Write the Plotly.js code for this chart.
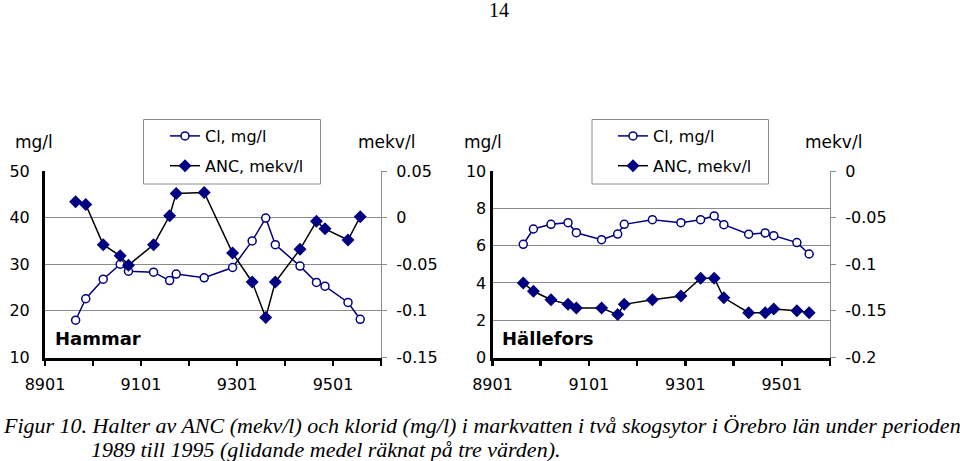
<!DOCTYPE html>
<html>
<head>
<meta charset="utf-8">
<script src="https://cdn.plot.ly/plotly-3.0.1.min.js"></script>
<style>html,body{margin:0;padding:0;background:#fff;}#chart{width:960px;height:461px;}</style>
</head>
<body>
<div id="chart"></div>
<script>
// ---- data ----
const sampleDates = ['1989-08-22','1989-11-07','1990-03-20','1990-07-27','1990-09-28','1991-04-07','1991-08-07','1991-09-26','1992-04-26','1992-11-28','1993-04-26','1993-08-07','1993-10-19','1994-04-25','1994-08-28','1994-11-01','1995-04-25','1995-07-27'];
const hammarCl  = [18.0, 22.6, 26.8, 30.0, 28.5, 28.3, 26.5, 27.9, 27.1, 29.3, 35.0, 39.9, 34.2, 29.6, 26.1, 25.3, 21.8, 18.2];
const hammarAnc = [0.017, 0.014, -0.029, -0.041, -0.051, -0.029, 0.002, 0.026, 0.027, -0.038, -0.069, -0.107, -0.069, -0.034, -0.004, -0.012, -0.024, 0.001];
const halleCl   = [6.07, 6.89, 7.14, 7.23, 6.69, 6.32, 6.62, 7.14, 7.39, 7.23, 7.39, 7.59, 7.12, 6.61, 6.68, 6.53, 6.16, 5.55];
const halleAnc  = [-0.120, -0.129, -0.138, -0.143, -0.147, -0.147, -0.154, -0.143, -0.138, -0.134, -0.115, -0.115, -0.136, -0.152, -0.152, -0.148, -0.150, -0.152];

const xTickVals = ['1989-01-01','1990-01-01','1991-01-01','1992-01-01','1993-01-01','1994-01-01','1995-01-01','1996-01-01'];
const xTickText = ['8901','','9101','','9301','','9501',''];
const hamLeftTicks = [10, 20, 30, 40, 50];
const hamRightVals = [-0.15, -0.1, -0.05, 0, 0.05];
const hamRightText = ['-0.15', '-0.1', '-0.05', '0', '0.05'];
const halLeftTicks = [0, 2, 4, 6, 8, 10];
const halRightVals = [-0.2, -0.15, -0.1, -0.05, 0];
const halRightText = ['-0.2', '-0.15', '-0.1', '-0.05', '0'];

const seriesNames = ['Cl, mg/l', 'ANC, mekv/l'];
const siteNames = ['Hammar', 'Hällefors'];

// ---- styling ----
const W = 960, H = 461;
const px = v => v / W;
const py = v => 1 - v / H;
const FONT = 'DejaVu Sans';
const NAVY = '#000080';

function clTrace(y, xa, ya, leg) {
  return {x: sampleDates, y: y, xaxis: xa, yaxis: ya, legend: leg, name: seriesNames[0],
    legendgroup: leg + 'a', mode: 'lines+markers', line: {color: NAVY, width: 1.5},
    marker: {symbol: 'circle', size: 8, color: 'white', line: {color: NAVY, width: 1.5}}};
}
function ancTrace(y, xa, ya, leg) {
  return {x: sampleDates, y: y, xaxis: xa, yaxis: ya, legend: leg, name: seriesNames[1],
    legendgroup: leg + 'b', mode: 'lines+markers', line: {color: 'black', width: 1.5},
    marker: {symbol: 'diamond', size: 10, color: NAVY, line: {width: 0}}};
}

const data = [
  clTrace(hammarCl, 'x', 'y', 'legend'),
  ancTrace(hammarAnc, 'x', 'y2', 'legend'),
  clTrace(halleCl, 'x2', 'y3', 'legend2'),
  ancTrace(halleAnc, 'x2', 'y4', 'legend2')
];

const tickFont = {family: FONT, size: 16, color: 'black'};
function xAxis(dom, anchor) {
  return {domain: dom, anchor: anchor, type: 'date', range: ['1989-01-01', '1996-01-01'],
    tickmode: 'array', tickvals: xTickVals, ticktext: xTickText, ticks: 'outside',
    ticklen: 5, tickwidth: 2.5, tickcolor: 'black', showline: true, linecolor: 'black',
    linewidth: 3, showgrid: false, zeroline: false, tickfont: tickFont, ticklabelstandoff: 5, fixedrange: true};
}
function yLeft(dom, anchor, range, vals, standoff) {
  return {domain: dom, anchor: anchor, range: range, tickmode: 'array', tickvals: vals,
    ticktext: vals.map(String), showgrid: true, gridcolor: '#8c8c8c', gridwidth: 1,
    showline: true, linecolor: 'black', linewidth: 3, ticks: '', zeroline: false,
    tickfont: tickFont, ticklabelstandoff: standoff, fixedrange: true};
}
function yRight(overlay, anchor, range, vals, text) {
  return {overlaying: overlay, anchor: anchor, side: 'right', range: range, tickmode: 'array',
    tickvals: vals, ticktext: text, showgrid: false, showline: true, linecolor: '#8c8c8c',
    linewidth: 1, ticks: 'outside', ticklen: 5, tickcolor: '#8c8c8c', zeroline: false,
    tickfont: tickFont, ticklabelstandoff: 6, fixedrange: true};
}

const yDom = [py(357.5), py(171)];
const legendCommon = {bgcolor: 'rgba(0,0,0,0)', borderwidth: 0, font: {family: FONT, size: 16, color: 'black'},
  xanchor: 'left', yanchor: 'top', traceorder: 'grouped', tracegroupgap: 6, itemclick: false};

function ann(text, x, y, opts) {
  return Object.assign({text: text, xref: 'paper', yref: 'paper', x: x, y: y, showarrow: false,
    xanchor: 'left', yanchor: 'middle', font: {family: FONT, size: 17, color: 'black'}}, opts || {});
}
const capFont = {family: 'Liberation Serif', size: 22, color: 'black', style: 'italic'};

const layout = {
  width: W, height: H, margin: {l: 0, r: 0, t: 0, b: 0}, paper_bgcolor: 'white', plot_bgcolor: 'white',
  showlegend: true,
  xaxis: xAxis([px(45), px(381)], 'y'),
  yaxis: yLeft(yDom, 'x', [10, 50], hamLeftTicks, 9),
  yaxis2: yRight('y', 'x', [-0.15, 0.05], hamRightVals, hamRightText),
  xaxis2: xAxis([px(492.5), px(830)], 'y3'),
  yaxis3: yLeft(yDom, 'x2', [0, 10], halLeftTicks, 0),
  yaxis4: yRight('y3', 'x2', [-0.2, 0], halRightVals, halRightText),
  legend: Object.assign({x: px(165), y: py(119)}, legendCommon),
  legend2: Object.assign({x: px(613), y: py(119)}, legendCommon),
  shapes: [
    {type: 'rect', xref: 'paper', yref: 'paper', x0: px(143.5), x1: px(320.5), y0: py(184), y1: py(119.5),
     line: {color: '#8c8c8c', width: 1}, fillcolor: 'white', layer: 'above'},
    {type: 'rect', xref: 'paper', yref: 'paper', x0: px(592), x1: px(768.5), y0: py(184), y1: py(119.5),
     line: {color: '#8c8c8c', width: 1}, fillcolor: 'white', layer: 'above'}
  ],
  annotations: [
    ann('14', px(499), py(10), {xanchor: 'center', font: {family: 'Liberation Serif', size: 20, color: 'black'}}),
    ann('mg/l', px(13), py(142)),
    ann('mekv/l', px(356), py(142)),
    ann('mg/l', px(462), py(142)),
    ann('mekv/l', px(803), py(142)),
    ann(siteNames[0], px(53), py(338), {font: {family: FONT, size: 18, color: 'black', weight: 'bold'}}),
    ann(siteNames[1], px(500), py(338), {font: {family: FONT, size: 18, color: 'black', weight: 'bold'}}),
    ann('Figur 10. Halter av ANC (mekv/l) och klorid (mg/l) i markvatten i två skogsytor i Örebro län under perioden', px(1), py(425), {font: capFont}),
    ann('1989 till 1995 (glidande medel räknat på tre värden).', px(89), py(449), {font: capFont})
  ]
};

Plotly.newPlot('chart', data, layout, {staticPlot: true, displayModeBar: false});
</script>
</body>
</html>
